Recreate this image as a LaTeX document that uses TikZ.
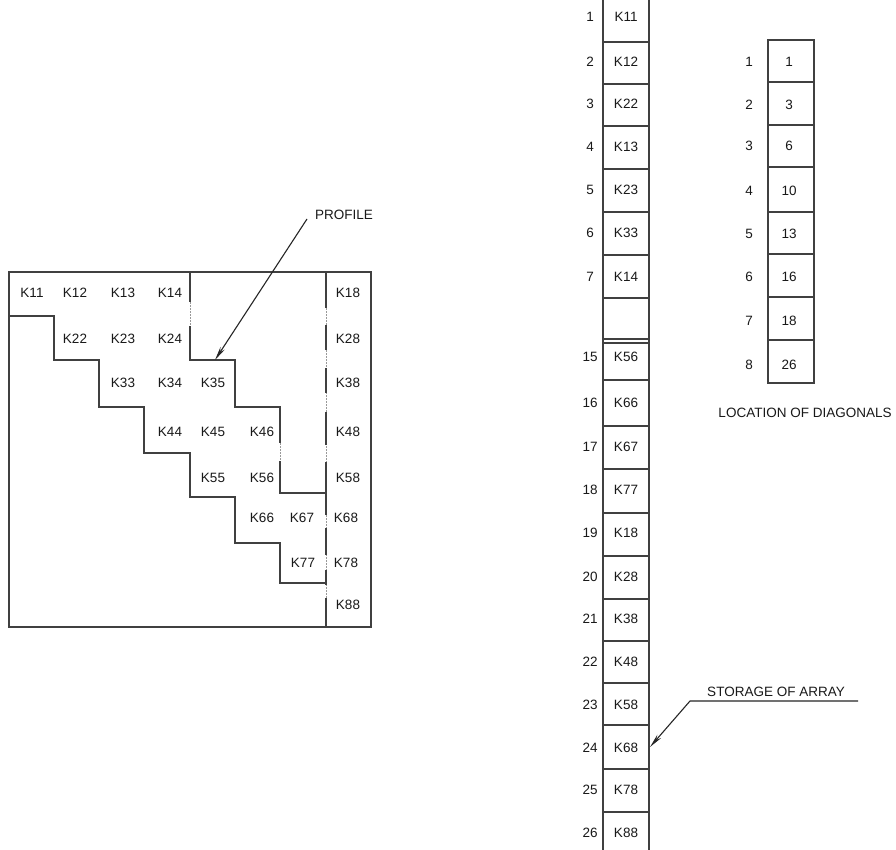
\documentclass[tikz,border=0pt]{standalone}
\usepackage{fontspec}
\setmainfont{Liberation Sans}
\usetikzlibrary{arrows.meta}
\begin{document}
\begin{tikzpicture}[x=1pt,y=-1pt,
  ln/.style={draw=black!75,line width=1.4pt},
  dl/.style={draw=black!40,line width=0.8pt,dash pattern=on 1.5pt off 1.5pt},
  lbl/.style={font=\fontsize{13.5}{13.5}\selectfont,text=black!90,inner sep=0pt},
  ptr/.style={draw=black!85,line width=1.1pt,-{Stealth[length=14pt,width=5pt]}}]
\useasboundingbox[fill=white] (0,0) rectangle (896,850);
% ---------- left matrix ----------
\draw[ln] (9,272) rectangle (371,627);
\draw[dl] (326,272) -- (326,627);
\foreach \a/\b in {272/308,325/350,368/393,412/445,462/515,528/555,570/585,598/627}
  \draw[ln] (326,\a) -- (326,\b);
% upper profile
\draw[ln] (190,272) -- (190,302);
\draw[dl] (190,302) -- (190,326);
\draw[ln] (190,326) -- (190,360) -- (235,360) -- (235,407) -- (280,407) -- (280,443);
\draw[dl] (280,443) -- (280,461);
\draw[ln] (280,461) -- (280,493) -- (326,493);
% lower profile (diagonal staircase)
\draw[ln] (9,316) -- (54,316) -- (54,360) -- (99,360) -- (99,407) -- (144,407) -- (144,453)
  -- (190,453) -- (190,497) -- (235,497) -- (235,543) -- (280,543) -- (280,583) -- (326,583);
% matrix entries
\foreach \n/\x/\y in {11/32/293,12/75/293,13/123/293,14/170/293,18/348/293,
  22/75/339,23/123/339,24/170/339,28/348/339,
  33/123/383,34/170/383,35/213/383,38/348/383,
  44/170/432,45/213/432,46/262/432,48/348/432,
  55/213/478,56/262/478,58/348/478,
  66/262/518,67/302/518,68/346/518,
  77/303/563,78/346/563,
  88/348/605}
  \node[lbl] (m\n) at (\x,\y) {K\n};
% profile label
\node[lbl,anchor=west] (prof) at (315,215) {PROFILE};
\coordinate (profS) at (307,219);
\coordinate (profT) at (215,360);
% ---------- storage array ----------
\draw[ln] (603,0) -- (603,850);
\draw[ln] (649,0) -- (649,850);
\foreach \y in {42,84,126,169,212,255,298,339,343,380,426,469,513,556,599,641,683,725,769,812}
  \draw[ln] (603,\y) -- (649,\y);
\foreach \n/\t/\y in {1/K11/17,2/K12/62,3/K22/104,4/K13/147,5/K23/190,6/K33/233,7/K14/277,
  15/K56/357,16/K66/403,17/K67/447,18/K77/490,19/K18/533,20/K28/577,21/K38/619,
  22/K48/662,23/K58/705,24/K68/748,25/K78/790,26/K88/833}
  {\node[lbl] (s\n) at (626,\y) {\t};
   \node[lbl] (i\n) at (590,\y) {\n};}
% storage label
\node[lbl,anchor=south] (stor) at (776,697) {STORAGE OF ARRAY};
\coordinate (storR) at (858,701);
\coordinate (storL) at (690,701);
\coordinate (storT) at (650,747);
% ---------- location of diagonals ----------
\draw[ln] (768,40) rectangle (814,383);
\foreach \y in {82,125,167,212,254,297,340}
  \draw[ln] (768,\y) -- (814,\y);
\foreach \n/\v/\y in {1/1/62,2/3/105,3/6/146,4/10/191,5/13/234,6/16/277,7/18/321,8/26/365}
  {\node[lbl] (d\n) at (789,\y) {\v};
   \node[lbl] (j\n) at (749,\y) {\n};}
\node[lbl] (loc) at (805,413) {LOCATION OF DIAGONALS};
% ---------- leaders (drawn in an unflipped frame) ----------
\begin{scope}[x=1pt,y=1pt]
\draw[ptr] (profS) -- (profT);
\draw[ptr] (storR) -- (storL) -- (storT);
\end{scope}
\end{tikzpicture}
\end{document}
